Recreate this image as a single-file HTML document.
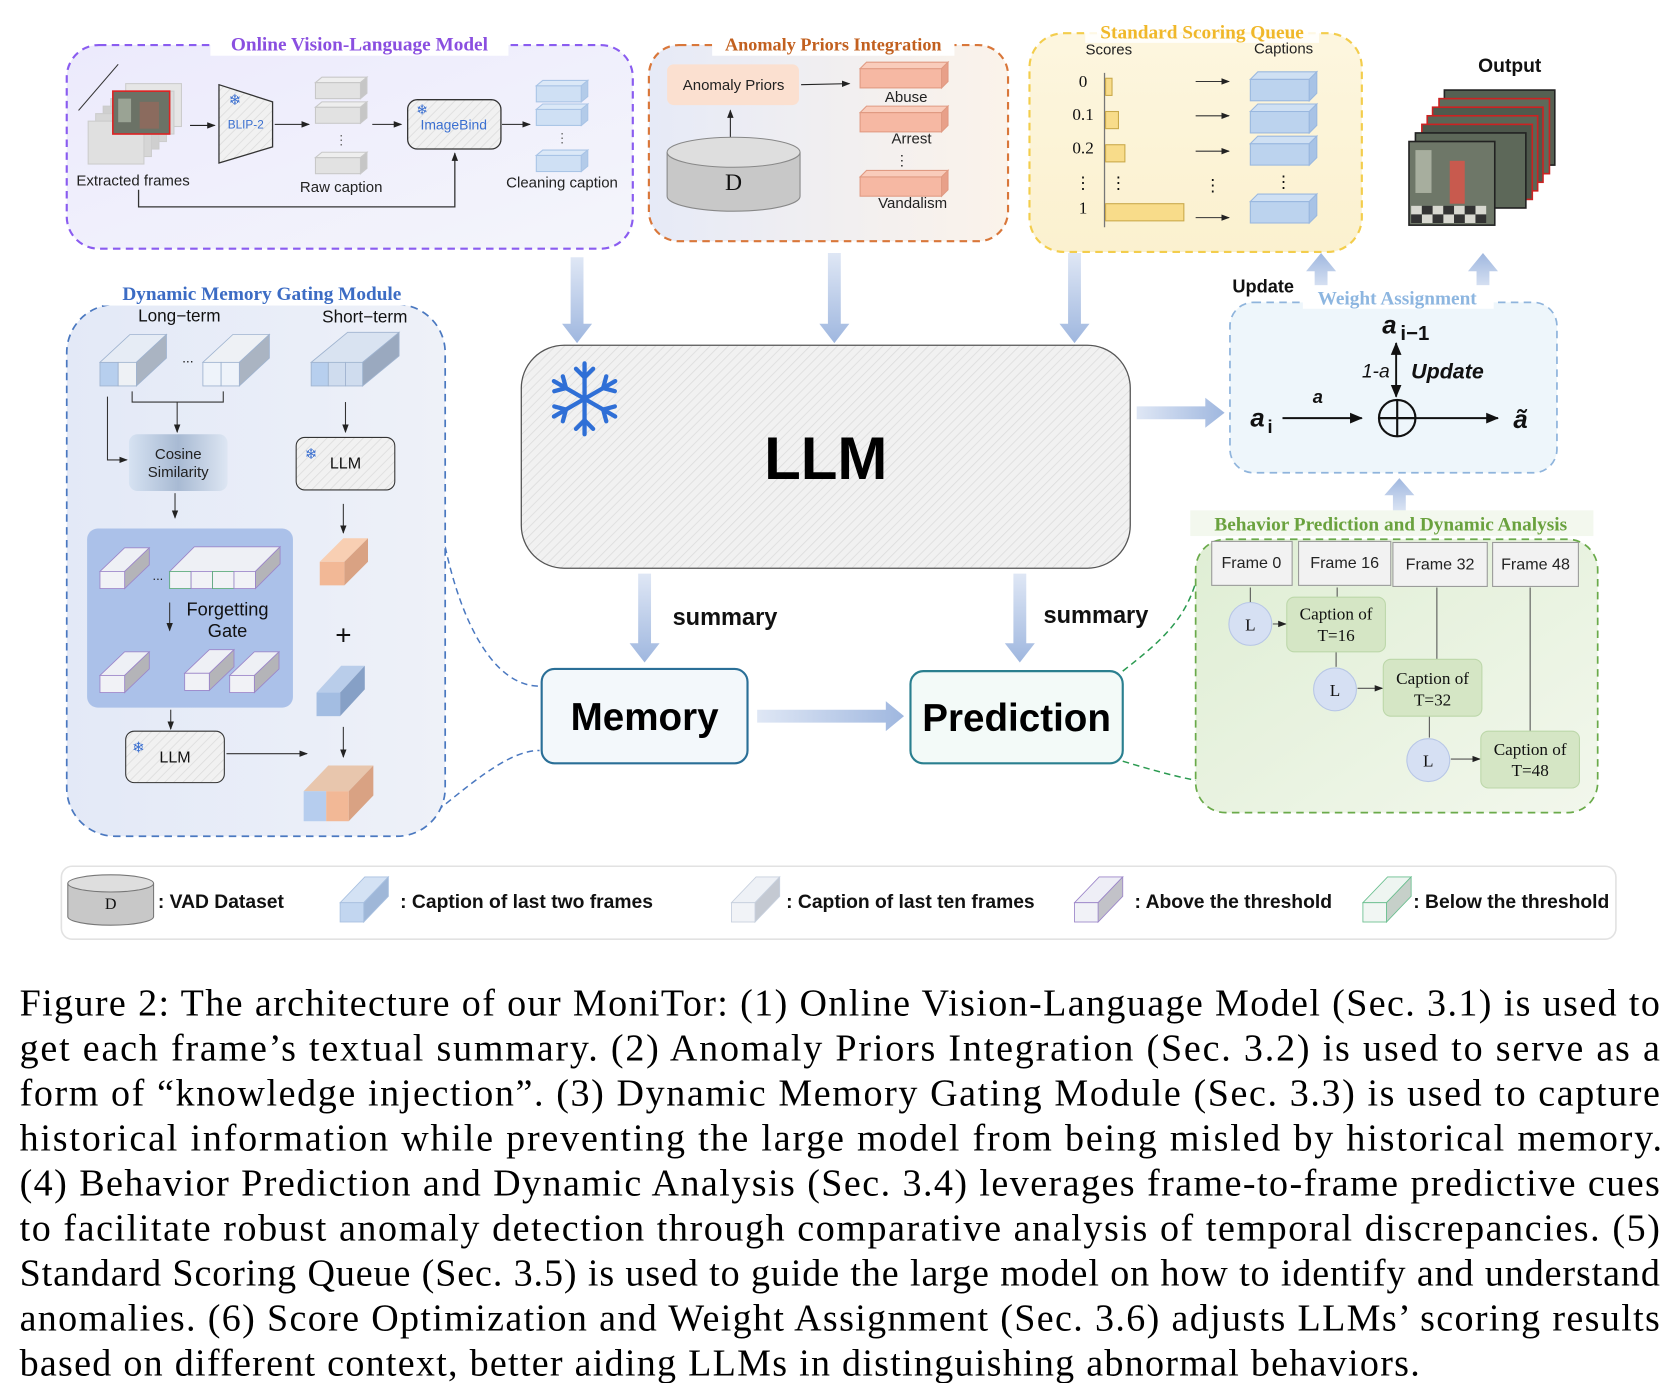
<!DOCTYPE html>
<html><head><meta charset="utf-8"><style>
html,body{margin:0;padding:0;background:#fff;width:1673px;height:1383px;overflow:hidden}
svg{display:block}
.s{font-family:"Liberation Sans",sans-serif}
.r{font-family:"Liberation Serif",serif}
</style></head><body>
<svg width="1673" height="1383" viewBox="0 0 1560 1290" xmlns="http://www.w3.org/2000/svg">
<defs>
<marker id="ah" markerWidth="8" markerHeight="8" refX="7" refY="4" orient="auto" markerUnits="userSpaceOnUse"><path d="M0,1 L8,4 L0,7 z" fill="#222"/></marker>
<marker id="ah2" markerWidth="12" markerHeight="12" refX="11" refY="6" orient="auto-start-reverse" markerUnits="userSpaceOnUse"><path d="M0,1 L12,6 L0,11 z" fill="#111"/></marker>
<pattern id="hatch" width="6" height="6" patternUnits="userSpaceOnUse" patternTransform="rotate(45)"><rect width="6" height="6" fill="#f1f1f1"/><line x1="0" y1="0" x2="0" y2="6" stroke="#dcdcdc" stroke-width="1.5"/></pattern>
<linearGradient id="gv" x1="0" y1="0" x2="1" y2="1"><stop offset="0" stop-color="#eceafc"/><stop offset="1" stop-color="#f4f5fb"/></linearGradient>
<linearGradient id="ga" x1="0" y1="0" x2="1" y2="0"><stop offset="0" stop-color="#e6eaf7"/><stop offset="1" stop-color="#fbf3ea"/></linearGradient>
<linearGradient id="gy" x1="0" y1="0" x2="0" y2="1"><stop offset="0" stop-color="#fdf6df"/><stop offset="1" stop-color="#fbf1cf"/></linearGradient>
<linearGradient id="gd" x1="0" y1="0" x2="1" y2="0"><stop offset="0" stop-color="#e3e9f7"/><stop offset="1" stop-color="#eef1f8"/></linearGradient>
<linearGradient id="gb" x1="0" y1="0" x2="1" y2="1"><stop offset="0" stop-color="#dfeed4"/><stop offset="1" stop-color="#f2f7ec"/></linearGradient>
<linearGradient id="gc" x1="0" y1="0" x2="1" y2="0"><stop offset="0" stop-color="#d6e2f2"/><stop offset="0.5" stop-color="#a8bad3"/><stop offset="1" stop-color="#dde6f3"/></linearGradient>
<linearGradient id="arV" x1="0" y1="0" x2="0" y2="1"><stop offset="0" stop-color="#dfe7f5"/><stop offset="1" stop-color="#9fb7df"/></linearGradient>
<linearGradient id="arH" x1="0" y1="0" x2="1" y2="0"><stop offset="0" stop-color="#dfe7f5"/><stop offset="1" stop-color="#9fb7df"/></linearGradient>
<linearGradient id="arU" x1="0" y1="1" x2="0" y2="0"><stop offset="0" stop-color="#dfe7f5"/><stop offset="1" stop-color="#9fb7df"/></linearGradient>
</defs>

<!-- ===== Online Vision-Language Model ===== -->
<rect x="62" y="42" width="528" height="190" rx="30" fill="url(#gv)" stroke="#8a5cf0" stroke-width="2" stroke-dasharray="7,5"/>
<rect x="196" y="30" width="278" height="22" fill="#fff"/>
<text x="335" y="47" text-anchor="middle" class="r" font-weight="bold" font-size="18" fill="#8a4fe0">Online Vision-Language Model</text>
<line x1="110" y1="60" x2="73" y2="103" stroke="#333" stroke-width="1"/>
<g stroke="#ccc" stroke-width="1">
<rect x="117" y="78" width="52" height="40" fill="#e6e6e6"/>
<rect x="110" y="85" width="52" height="40" fill="#dcdcdc"/>
<rect x="103" y="92" width="52" height="40" fill="#d4d4d4"/>
<rect x="96" y="99" width="52" height="40" fill="#cfcfcf"/>
<rect x="89" y="106" width="52" height="40" fill="#d6d6d6"/>
<rect x="82" y="113" width="52" height="40" fill="#e0e0e0"/>
</g>
<rect x="105" y="85" width="53" height="40" fill="#6b7266" stroke="#d22" stroke-width="1.5"/>
<rect x="110" y="92" width="12" height="22" fill="#9aa394"/><rect x="130" y="95" width="18" height="25" fill="#8b6b5e"/>
<text x="71" y="173" class="s" font-size="14" fill="#222">Extracted frames</text>
<line x1="177" y1="117" x2="200" y2="117" stroke="#222" marker-end="url(#ah)"/>
<polygon points="204,79 254,95 254,137 204,152" fill="url(#hatch)" stroke="#333" stroke-width="1.2"/>
<text x="213" y="98" font-size="14" fill="#3a6fd0" class="s">❄</text>
<text x="229" y="120" text-anchor="middle" class="s" font-size="11" fill="#3a6fd0">BLIP-2</text>
<line x1="256" y1="116" x2="288" y2="116" stroke="#222" marker-end="url(#ah)"/>
<g fill="#e2e2e2" stroke="#c8c8c8">
<rect x="294" y="77" width="42" height="15"/><polygon points="294,77 300,72 342,72 336,77" fill="#eee"/><polygon points="336,77 342,72 342,87 336,92" fill="#c6c6c6"/>
<rect x="294" y="100" width="42" height="15"/><polygon points="294,100 300,95 342,95 336,100" fill="#eee"/><polygon points="336,100 342,95 342,110 336,115" fill="#c6c6c6"/>
<rect x="294" y="147" width="42" height="15"/><polygon points="294,147 300,142 342,142 336,147" fill="#eee"/><polygon points="336,147 342,142 342,157 336,162" fill="#c6c6c6"/>
</g>
<text x="318" y="135" text-anchor="middle" class="s" font-size="12" fill="#666">⋮</text>
<text x="318" y="179" text-anchor="middle" class="s" font-size="14" fill="#222">Raw caption</text>
<line x1="347" y1="116" x2="374" y2="116" stroke="#222" marker-end="url(#ah)"/>
<rect x="380" y="93" width="87" height="46" rx="9" fill="url(#hatch)" stroke="#333" stroke-width="1.2"/>
<text x="388" y="107" font-size="13" fill="#3a6fd0" class="s">❄</text>
<text x="423" y="121" text-anchor="middle" class="s" font-size="13" fill="#3a6fd0">ImageBind</text>
<polyline points="129,177 129,193 424,193 424,143" fill="none" stroke="#333" stroke-width="1.2" marker-end="url(#ah)"/>
<line x1="468" y1="116" x2="494" y2="116" stroke="#222" marker-end="url(#ah)"/>
<g fill="#cfe0f4" stroke="#a9c4e6">
<rect x="500" y="80" width="42" height="15"/><polygon points="500,80 506,75 548,75 542,80" fill="#dbe8f7"/><polygon points="542,80 548,75 548,90 542,95" fill="#b3cbe9"/>
<rect x="500" y="102" width="42" height="15"/><polygon points="500,102 506,97 548,97 542,102" fill="#dbe8f7"/><polygon points="542,102 548,97 548,112 542,117" fill="#b3cbe9"/>
<rect x="500" y="145" width="42" height="15"/><polygon points="500,145 506,140 548,140 542,145" fill="#dbe8f7"/><polygon points="542,145 548,140 548,155 542,160" fill="#b3cbe9"/>
</g>
<text x="524" y="133" text-anchor="middle" class="s" font-size="12" fill="#666">⋮</text>
<text x="524" y="175" text-anchor="middle" class="s" font-size="14" fill="#222">Cleaning caption</text>

<!-- ===== Anomaly Priors ===== -->
<rect x="605" y="42" width="335" height="183" rx="28" fill="url(#ga)" stroke="#d9773a" stroke-width="2" stroke-dasharray="7,5"/>
<rect x="664" y="30" width="226" height="22" fill="#fff"/>
<text x="777" y="47" text-anchor="middle" class="r" font-weight="bold" font-size="17" fill="#c2601f">Anomaly Priors Integration</text>
<rect x="622" y="60" width="123" height="38" rx="6" fill="#fbe0d0"/>
<text x="684" y="84" text-anchor="middle" class="s" font-size="14" fill="#222">Anomaly Priors</text>
<line x1="747" y1="79" x2="792" y2="78" stroke="#222" marker-end="url(#ah)"/>
<line x1="681" y1="133" x2="681" y2="103" stroke="#222" marker-end="url(#ah)"/>
<path d="M622,142 L622,183 A62,14 0 0 0 746,183 L746,142" fill="#c8c8c8" stroke="#888"/>
<ellipse cx="684" cy="142" rx="62" ry="14" fill="#dedede" stroke="#888"/>
<text x="684" y="177" text-anchor="middle" class="r" font-size="22" fill="#111">D</text>
<g fill="#f6b8a3" stroke="#e09a82">
<rect x="802" y="64" width="76" height="18"/><polygon points="802,64 808,58 884,58 878,64" fill="#f9ccbb"/><polygon points="878,64 884,58 884,76 878,82" fill="#e8a089"/>
<rect x="802" y="105" width="76" height="18"/><polygon points="802,105 808,99 884,99 878,105" fill="#f9ccbb"/><polygon points="878,105 884,99 884,117 878,123" fill="#e8a089"/>
<rect x="802" y="165" width="76" height="18"/><polygon points="802,165 808,159 884,159 878,165" fill="#f9ccbb"/><polygon points="878,165 884,159 884,177 878,183" fill="#e8a089"/>
</g>
<text x="845" y="95" text-anchor="middle" class="s" font-size="14" fill="#222">Abuse</text>
<text x="850" y="134" text-anchor="middle" class="s" font-size="14" fill="#222">Arrest</text>
<text x="841" y="154" text-anchor="middle" class="s" font-size="13" fill="#222">⋮</text>
<text x="851" y="194" text-anchor="middle" class="s" font-size="14" fill="#222">Vandalism</text>

<!-- ===== Standard Scoring Queue ===== -->
<rect x="960" y="31" width="310" height="204" rx="32" fill="url(#gy)" stroke="#f3cd4c" stroke-width="2" stroke-dasharray="7,5"/>
<rect x="1012" y="20" width="218" height="20" fill="#fff" opacity="0.85"/>
<text x="1121" y="36" text-anchor="middle" class="r" font-weight="bold" font-size="18" fill="#f0b82a">Standard Scoring Queue</text>
<text x="1034" y="51" text-anchor="middle" class="s" font-size="14" fill="#222">Scores</text>
<text x="1197" y="50" text-anchor="middle" class="s" font-size="14" fill="#222">Captions</text>
<line x1="1030" y1="68" x2="1030" y2="212" stroke="#777" stroke-width="1.2"/>
<g fill="#f8dc8a" stroke="#c9a94a">
<rect x="1031" y="73" width="6" height="16"/>
<rect x="1031" y="104" width="12" height="16"/>
<rect x="1031" y="135" width="18" height="16"/>
<rect x="1031" y="190" width="73" height="16"/>
</g>
<g class="r" font-size="16" fill="#111" text-anchor="middle">
<text x="1010" y="81">0</text><text x="1010" y="112">0.1</text><text x="1010" y="143">0.2</text><text x="1010" y="176">⋮</text><text x="1010" y="199">1</text>
<text x="1043" y="176">⋮</text><text x="1131" y="178">⋮</text><text x="1197" y="175">⋮</text>
</g>
<g stroke="#333">
<line x1="1115" y1="76" x2="1146" y2="76" marker-end="url(#ah)"/>
<line x1="1115" y1="108" x2="1146" y2="108" marker-end="url(#ah)"/>
<line x1="1115" y1="141" x2="1146" y2="141" marker-end="url(#ah)"/>
<line x1="1115" y1="203" x2="1146" y2="203" marker-end="url(#ah)"/>
</g>
<g fill="#bcd3ee" stroke="#9ab8df">
<rect x="1166" y="74" width="55" height="20"/><polygon points="1166,74 1173,67 1228,67 1221,74" fill="#cfe0f3"/><polygon points="1221,74 1228,67 1228,87 1221,94" fill="#a8c3e6"/>
<rect x="1166" y="104" width="55" height="20"/><polygon points="1166,104 1173,97 1228,97 1221,104" fill="#cfe0f3"/><polygon points="1221,104 1228,97 1228,117 1221,124" fill="#a8c3e6"/>
<rect x="1166" y="134" width="55" height="20"/><polygon points="1166,134 1173,127 1228,127 1221,134" fill="#cfe0f3"/><polygon points="1221,134 1228,127 1228,147 1221,154" fill="#a8c3e6"/>
<rect x="1166" y="188" width="55" height="20"/><polygon points="1166,188 1173,181 1228,181 1221,188" fill="#cfe0f3"/><polygon points="1221,188 1228,181 1228,201 1221,208" fill="#a8c3e6"/>
</g>

<!-- ===== Output ===== -->
<text x="1408" y="67" text-anchor="middle" class="s" font-weight="bold" font-size="18" fill="#111">Output</text>
<g stroke="#222" stroke-width="1.5">
<rect x="1347" y="84" width="103" height="70" fill="#556052"/>
<rect x="1342" y="92" width="103" height="70" fill="#5e6a5a" stroke="#c22"/>
<rect x="1336" y="100" width="103" height="70" fill="#4f5a4d" stroke="#c22"/>
<rect x="1331" y="108" width="103" height="70" fill="#5a6656" stroke="#c22"/>
<rect x="1326" y="116" width="103" height="70" fill="#4d574b" stroke="#c22"/>
<rect x="1320" y="124" width="103" height="70" fill="#5d6859"/>
<rect x="1314" y="132" width="80" height="78" fill="#6e7768"/>
</g>
<rect x="1320" y="140" width="15" height="40" fill="#a7ae9e"/><rect x="1352" y="150" width="14" height="40" fill="#c85a4e"/>
<g fill="#d8d8d0"><rect x="1316" y="192" width="10" height="8"/><rect x="1336" y="192" width="10" height="8"/><rect x="1356" y="192" width="10" height="8"/><rect x="1376" y="192" width="10" height="8"/><rect x="1326" y="200" width="10" height="8"/><rect x="1346" y="200" width="10" height="8"/><rect x="1366" y="200" width="10" height="8"/></g>
<g fill="#333"><rect x="1326" y="192" width="10" height="8"/><rect x="1346" y="192" width="10" height="8"/><rect x="1366" y="192" width="10" height="8"/><rect x="1316" y="200" width="10" height="8"/><rect x="1336" y="200" width="10" height="8"/><rect x="1356" y="200" width="10" height="8"/><rect x="1376" y="200" width="10" height="8"/></g>

<!-- ===== Down arrows into LLM ===== -->
<g fill="url(#arV)">
<polygon points="532,240 544,240 544,302 552,302 538,320 524,302 532,302"/>
<polygon points="772,236 784,236 784,302 792,302 778,320 764,302 772,302"/>
<polygon points="996,236 1008,236 1008,302 1016,302 1002,320 988,302 996,302"/>
</g>

<!-- ===== LLM ===== -->
<rect x="486" y="322" width="568" height="208" rx="40" fill="url(#hatch)" stroke="#555" stroke-width="1.2"/>
<g stroke="#2f6fd6" stroke-width="4" stroke-linecap="round" transform="translate(545,372)">
<g id="sp"><line x1="0" y1="0" x2="0" y2="-33"/><line x1="0" y1="-20" x2="-8" y2="-28"/><line x1="0" y1="-20" x2="8" y2="-28"/></g>
<use href="#sp" transform="rotate(60)"/><use href="#sp" transform="rotate(120)"/><use href="#sp" transform="rotate(180)"/><use href="#sp" transform="rotate(240)"/><use href="#sp" transform="rotate(300)"/>
</g>
<text x="770" y="447" text-anchor="middle" class="s" font-weight="bold" font-size="56" fill="#000">LLM</text>

<polygon points="1060,379 1124,379 1124,371 1142,385 1124,399 1124,391 1060,391" fill="url(#arH)"/>
<g fill="url(#arV)">
<polygon points="595,535 607,535 607,600 615,600 601,618 587,600 595,600"/>
<polygon points="945,535 957,535 957,600 965,600 951,618 937,600 945,600"/>
</g>
<text x="676" y="583" text-anchor="middle" class="s" font-weight="bold" font-size="22" fill="#111">summary</text>
<text x="1022" y="581" text-anchor="middle" class="s" font-weight="bold" font-size="22" fill="#111">summary</text>

<rect x="505" y="624" width="192" height="88" rx="12" fill="#f3f8fb" stroke="#2a6f97" stroke-width="2"/>
<text x="601" y="681" text-anchor="middle" class="s" font-weight="bold" font-size="36" fill="#000">Memory</text>
<rect x="849" y="626" width="198" height="86" rx="12" fill="#f3faf8" stroke="#2a7f8f" stroke-width="2"/>
<text x="948" y="682" text-anchor="middle" class="s" font-weight="bold" font-size="36" fill="#000">Prediction</text>
<polygon points="706,662 826,662 826,654 843,668 826,682 826,674 706,674" fill="url(#arH)"/>

<path d="M415,510 C430,580 460,640 503,640" fill="none" stroke="#4a78c0" stroke-width="1.4" stroke-dasharray="6,4"/>
<path d="M392,768 C430,740 470,700 503,700" fill="none" stroke="#4a78c0" stroke-width="1.4" stroke-dasharray="6,4"/>
<path d="M1047,626 C1080,600 1105,580 1116,540" fill="none" stroke="#2a9a50" stroke-width="1.4" stroke-dasharray="6,4"/>
<path d="M1047,710 C1080,720 1100,725 1116,728" fill="none" stroke="#2a9a50" stroke-width="1.4" stroke-dasharray="6,4"/>

<!-- ===== Dynamic Memory Gating ===== -->
<rect x="62" y="284" width="353" height="496" rx="45" fill="url(#gd)" stroke="#4a78c0" stroke-width="1.6" stroke-dasharray="7,5"/>
<rect x="96" y="263" width="296" height="22" fill="#fff"/>
<text x="244" y="280" text-anchor="middle" class="r" font-weight="bold" font-size="18" fill="#3c6cc4">Dynamic Memory Gating Module</text>
<text x="167" y="300" text-anchor="middle" class="s" font-size="16" fill="#111">Long−term</text>
<text x="340" y="301" text-anchor="middle" class="s" font-size="16" fill="#111">Short−term</text>
<g stroke="#9fb3cf" stroke-width="0.8">
<polygon points="93,338 121,312 155,312 127,338" fill="#e6ecf5"/>
<polygon points="127,338 155,312 155,334 127,360" fill="#aab4c2"/>
<rect x="93" y="338" width="17" height="22" fill="#b7cfee"/>
<rect x="110" y="338" width="17" height="22" fill="#eef1f5"/>
<polygon points="189,338 217,312 251,312 223,338" fill="#eef1f5"/>
<polygon points="223,338 251,312 251,334 223,360" fill="#aab4c2"/>
<rect x="189" y="338" width="17" height="22" fill="#eef3fa"/>
<rect x="206" y="338" width="17" height="22" fill="#eef3fa"/>
<polygon points="290,338 324,310 372,310 338,338" fill="#d9e3f1"/>
<polygon points="338,338 372,310 372,332 338,360" fill="#9aa9bf"/>
<rect x="290" y="338" width="16" height="22" fill="#b7cfee"/>
<rect x="306" y="338" width="16" height="22" fill="#cfdcee"/>
<rect x="322" y="338" width="16" height="22" fill="#cfdcee"/>
</g>
<text x="175" y="338" text-anchor="middle" class="s" font-size="13" fill="#222">...</text>
<polyline points="123,365 123,375 208,375 208,365" fill="none" stroke="#333"/>
<line x1="165" y1="375" x2="165" y2="403" stroke="#333" marker-end="url(#ah)"/>
<polyline points="100,370 100,429 118,429" fill="none" stroke="#333" marker-end="url(#ah)"/>
<rect x="120" y="405" width="92" height="53" rx="8" fill="url(#gc)"/>
<text x="166" y="428" text-anchor="middle" class="s" font-size="14" fill="#222">Cosine</text>
<text x="166" y="445" text-anchor="middle" class="s" font-size="14" fill="#222">Similarity</text>
<line x1="163" y1="460" x2="163" y2="483" stroke="#333" marker-end="url(#ah)"/>
<rect x="81" y="493" width="192" height="167" rx="10" fill="#abc1e9"/>
<g stroke="#9c86c9" stroke-width="0.8">
<polygon points="93,533 116,511 139,511 116,533" fill="#eef0f5"/><polygon points="116,533 139,511 139,527 116,549" fill="#b4b4b8"/><rect x="93" y="533" width="23" height="16" fill="#f1f2f6"/>
<polygon points="158,533 181,510 261,510 238,533" fill="#eef0f5"/><polygon points="238,533 261,510 261,526 238,549" fill="#b4b4b8"/>
<rect x="158" y="533" width="20" height="16" fill="#f1f2f6" stroke="#5aaa7a"/><rect x="178" y="533" width="20" height="16" fill="#f1f2f6"/><rect x="198" y="533" width="20" height="16" fill="#f1f2f6" stroke="#5aaa7a"/><rect x="218" y="533" width="20" height="16" fill="#f1f2f6"/>
<polygon points="93,630 116,608 139,608 116,630" fill="#eef0f5"/><polygon points="116,630 139,608 139,624 116,646" fill="#b4b4b8"/><rect x="93" y="630" width="23" height="16" fill="#f1f2f6"/>
<polygon points="172,628 195,606 218,606 195,628" fill="#eef0f5"/><polygon points="195,628 218,606 218,622 195,644" fill="#b4b4b8"/><rect x="172" y="628" width="23" height="16" fill="#f1f2f6"/>
<polygon points="214,630 237,608 260,608 237,630" fill="#eef0f5"/><polygon points="237,630 260,608 260,624 237,646" fill="#b4b4b8"/><rect x="214" y="630" width="23" height="16" fill="#f1f2f6"/>
</g>
<text x="147" y="541" text-anchor="middle" class="s" font-size="12" fill="#222">...</text>
<line x1="158" y1="562" x2="158" y2="588" stroke="#333" marker-end="url(#ah)"/>
<text x="212" y="574" text-anchor="middle" class="s" font-size="17" fill="#111">Forgetting</text>
<text x="212" y="594" text-anchor="middle" class="s" font-size="17" fill="#111">Gate</text>
<line x1="159" y1="662" x2="159" y2="680" stroke="#333" marker-end="url(#ah)"/>
<rect x="117" y="682" width="92" height="48" rx="8" fill="url(#hatch)" stroke="#333"/>
<text x="123" y="702" font-size="14" fill="#3a6fd0" class="s">❄</text>
<text x="163" y="711" text-anchor="middle" class="s" font-size="15" fill="#111">LLM</text>
<line x1="211" y1="703" x2="286" y2="703" stroke="#333" marker-end="url(#ah)"/>
<line x1="322" y1="375" x2="322" y2="403" stroke="#333" marker-end="url(#ah)"/>
<rect x="276" y="408" width="92" height="49" rx="8" fill="url(#hatch)" stroke="#333"/>
<text x="284" y="428" font-size="14" fill="#3a6fd0" class="s">❄</text>
<text x="322" y="437" text-anchor="middle" class="s" font-size="15" fill="#111">LLM</text>
<line x1="320" y1="470" x2="320" y2="497" stroke="#333" marker-end="url(#ah)"/>
<polygon points="298,524 320,502 343,502 321,524" fill="#f8cfb3"/><polygon points="321,524 343,502 343,524 321,546" fill="#d9a283"/><rect x="298" y="524" width="23" height="22" fill="#f2b896"/>
<text x="320" y="601" text-anchor="middle" class="s" font-size="26" fill="#111">+</text>
<polygon points="295,646 318,621 340,621 317,646" fill="#b9cdea"/><polygon points="317,646 340,621 340,643 317,668" fill="#86a0c6"/><rect x="295" y="646" width="22" height="22" fill="#a3bde2"/>
<line x1="320" y1="678" x2="320" y2="706" stroke="#333" marker-end="url(#ah)"/>
<polygon points="283,738 306,714 348,714 325,738" fill="#e8c6ad"/><polygon points="325,738 348,714 348,742 325,766" fill="#d9a283"/>
<rect x="283" y="738" width="21" height="28" fill="#b6cdee"/><rect x="304" y="738" width="21" height="28" fill="#f2b896"/>

<!-- ===== Weight Assignment ===== -->
<g fill="url(#arU)">
<polygon points="1226,272 1238,272 1238,253 1246,253 1232,236 1218,253 1226,253"/>
<polygon points="1377,272 1389,272 1389,253 1397,253 1383,236 1369,253 1377,253"/>
<polygon points="1299,479 1311,479 1311,462 1319,462 1305,446 1291,462 1299,462"/>
</g>
<rect x="1147" y="282" width="305" height="159" rx="22" fill="#eef6fb" stroke="#8fb4dc" stroke-width="1.6" stroke-dasharray="7,5"/>
<rect x="1215" y="266" width="178" height="22" fill="#fff"/>
<text x="1303" y="284" text-anchor="middle" class="r" font-weight="bold" font-size="18" fill="#8db6e0">Weight Assignment</text>
<text x="1178" y="273" text-anchor="middle" class="s" font-weight="bold" font-size="17" fill="#111">Update</text>
<text x="1289" y="311" class="s" font-weight="bold" font-style="italic" font-size="24" fill="#111">a</text>
<text x="1306" y="317" class="s" font-weight="bold" font-size="19" fill="#111">i−1</text>
<line x1="1302" y1="320" x2="1302" y2="370" stroke="#111" stroke-width="1.8" marker-start="url(#ah2)" marker-end="url(#ah2)"/>
<text x="1296" y="352" text-anchor="end" class="s" font-style="italic" font-size="18" fill="#111">1-a</text>
<text x="1316" y="353" class="s" font-weight="bold" font-style="italic" font-size="20" fill="#111">Update</text>
<text x="1229" y="376" text-anchor="middle" class="s" font-weight="bold" font-style="italic" font-size="17" fill="#111">a</text>
<text x="1166" y="398" class="s" font-weight="bold" font-style="italic" font-size="24" fill="#111">a</text>
<text x="1182" y="404" class="s" font-weight="bold" font-size="17" fill="#111">i</text>
<line x1="1196" y1="390" x2="1270" y2="390" stroke="#111" stroke-width="1.8" marker-end="url(#ah2)"/>
<circle cx="1303" cy="390" r="17" fill="none" stroke="#111" stroke-width="2"/>
<line x1="1286" y1="390" x2="1320" y2="390" stroke="#111" stroke-width="2"/><line x1="1303" y1="373" x2="1303" y2="407" stroke="#111" stroke-width="2"/>
<line x1="1320" y1="390" x2="1397" y2="390" stroke="#111" stroke-width="1.8" marker-end="url(#ah2)"/>
<text x="1418" y="399" text-anchor="middle" class="s" font-weight="bold" font-style="italic" font-size="24" fill="#111">ã</text>

<!-- ===== Behavior Prediction ===== -->
<rect x="1115" y="503" width="375" height="255" rx="28" fill="url(#gb)" stroke="#6aaa4a" stroke-width="1.6" stroke-dasharray="7,5"/>
<rect x="1110" y="476" width="376" height="24" fill="#f3f8ee"/>
<text x="1297" y="495" text-anchor="middle" class="r" font-weight="bold" font-size="18" fill="#6aa23e">Behavior Prediction and Dynamic Analysis</text>
<g fill="#f2f2f2" stroke="#999">
<rect x="1130" y="505" width="75" height="41"/><rect x="1211" y="505" width="86" height="41"/><rect x="1299" y="506" width="88" height="41"/><rect x="1392" y="506" width="80" height="41"/>
</g>
<g class="s" font-size="15" fill="#222" text-anchor="middle">
<text x="1167" y="530">Frame 0</text><text x="1254" y="530">Frame 16</text><text x="1343" y="531">Frame 32</text><text x="1432" y="531">Frame 48</text>
</g>
<g stroke="#555" stroke-width="1">
<line x1="1166" y1="548" x2="1166" y2="562"/><line x1="1247" y1="548" x2="1247" y2="557"/>
<line x1="1340" y1="548" x2="1340" y2="615"/><line x1="1427" y1="548" x2="1427" y2="682"/>
<line x1="1246" y1="607" x2="1246" y2="622"/><line x1="1333" y1="668" x2="1333" y2="688"/>
<line x1="1187" y1="582" x2="1199" y2="582" marker-end="url(#ah)"/>
<line x1="1266" y1="642" x2="1289" y2="642" marker-end="url(#ah)"/>
<line x1="1353" y1="708" x2="1380" y2="708" marker-end="url(#ah)"/>
</g>
<g fill="#d6e0f3" stroke="#b7c6e6">
<circle cx="1166" cy="582" r="20"/><circle cx="1245" cy="643" r="20"/><circle cx="1332" cy="709" r="20"/>
</g>
<g class="r" font-size="16" fill="#111" text-anchor="middle">
<text x="1166" y="588">L</text><text x="1245" y="649">L</text><text x="1332" y="715">L</text>
</g>
<g fill="#d5e6c5" stroke="#bcd7a9">
<rect x="1200" y="557" width="92" height="51" rx="7"/><rect x="1290" y="615" width="92" height="53" rx="7"/><rect x="1381" y="682" width="92" height="53" rx="7"/>
</g>
<g class="r" font-size="16" fill="#111" text-anchor="middle">
<text x="1246" y="578">Caption of</text><text x="1246" y="598">T=16</text>
<text x="1336" y="638">Caption of</text><text x="1336" y="658">T=32</text>
<text x="1427" y="704">Caption of</text><text x="1427" y="724">T=48</text>
</g>

<!-- ===== Legend ===== -->
<rect x="57" y="808" width="1450" height="68" rx="10" fill="#fff" stroke="#e2e2e2" stroke-width="1.5"/>
<path d="M63,824 L63,855 A40,8 0 0 0 143,855 L143,824" fill="#c8c8c8" stroke="#777"/>
<ellipse cx="103" cy="824" rx="40" ry="8" fill="#dedede" stroke="#777"/>
<text x="103" y="848" text-anchor="middle" class="r" font-size="15" fill="#111">D</text>
<g class="s" font-weight="bold" font-size="18" fill="#111">
<text x="147" y="847">: VAD Dataset</text>
<text x="373" y="847">: Caption of last two frames</text>
<text x="733" y="847">: Caption of last ten frames</text>
<text x="1058" y="847">: Above the threshold</text>
<text x="1318" y="847">: Below the threshold</text>
</g>
<g stroke-width="0.8">
<polygon points="317,842 340,818 362,818 339,842" fill="#d4e2f4" stroke="#a8c0e0"/><polygon points="339,842 362,818 362,836 339,860" fill="#9fb7d8" stroke="#a8c0e0"/><rect x="317" y="842" width="22" height="18" fill="#c2d6f0" stroke="#a8c0e0"/>
<polygon points="682,842 705,818 727,818 704,842" fill="#eef1f6" stroke="#c7d0de"/><polygon points="704,842 727,818 727,836 704,860" fill="#c4c9d2" stroke="#c7d0de"/><rect x="682" y="842" width="22" height="18" fill="#f1f3f7" stroke="#c7d0de"/>
<polygon points="1002,842 1025,818 1047,818 1024,842" fill="#eeeef6" stroke="#9c86c9"/><polygon points="1024,842 1047,818 1047,836 1024,860" fill="#c2c2c8" stroke="#9c86c9"/><rect x="1002" y="842" width="22" height="18" fill="#f1f2f7" stroke="#9c86c9"/>
<polygon points="1271,842 1294,818 1316,818 1293,842" fill="#eef5f1" stroke="#6abf8f"/><polygon points="1293,842 1316,818 1316,836 1293,860" fill="#c6d0c9" stroke="#6abf8f"/><rect x="1271" y="842" width="22" height="18" fill="#f1f6f3" stroke="#6abf8f"/>
</g>

<!-- ===== Caption ===== -->
<g class="r" font-size="35.5" fill="#000">
<text x="18" y="947" textLength="1530" lengthAdjust="spacing">Figure 2: The architecture of our MoniTor: (1) Online Vision-Language Model (Sec. 3.1) is used to</text>
<text x="18" y="989" textLength="1530" lengthAdjust="spacing">get each frame’s textual summary. (2) Anomaly Priors Integration (Sec. 3.2) is used to serve as a</text>
<text x="18" y="1031" textLength="1530" lengthAdjust="spacing">form of “knowledge injection”. (3) Dynamic Memory Gating Module (Sec. 3.3) is used to capture</text>
<text x="18" y="1073" textLength="1532" lengthAdjust="spacing">historical information while preventing the large model from being misled by historical memory.</text>
<text x="18" y="1115" textLength="1530" lengthAdjust="spacing">(4) Behavior Prediction and Dynamic Analysis (Sec. 3.4) leverages frame-to-frame predictive cues</text>
<text x="18" y="1157" textLength="1530" lengthAdjust="spacing">to facilitate robust anomaly detection through comparative analysis of temporal discrepancies. (5)</text>
<text x="18" y="1199" textLength="1530" lengthAdjust="spacing">Standard Scoring Queue (Sec. 3.5) is used to guide the large model on how to identify and understand</text>
<text x="18" y="1241" textLength="1530" lengthAdjust="spacing">anomalies. (6) Score Optimization and Weight Assignment (Sec. 3.6) adjusts LLMs’ scoring results</text>
<text x="18" y="1283" textLength="1306" lengthAdjust="spacing">based on different context, better aiding LLMs in distinguishing abnormal behaviors.</text>
</g>
</svg>
</body></html>
